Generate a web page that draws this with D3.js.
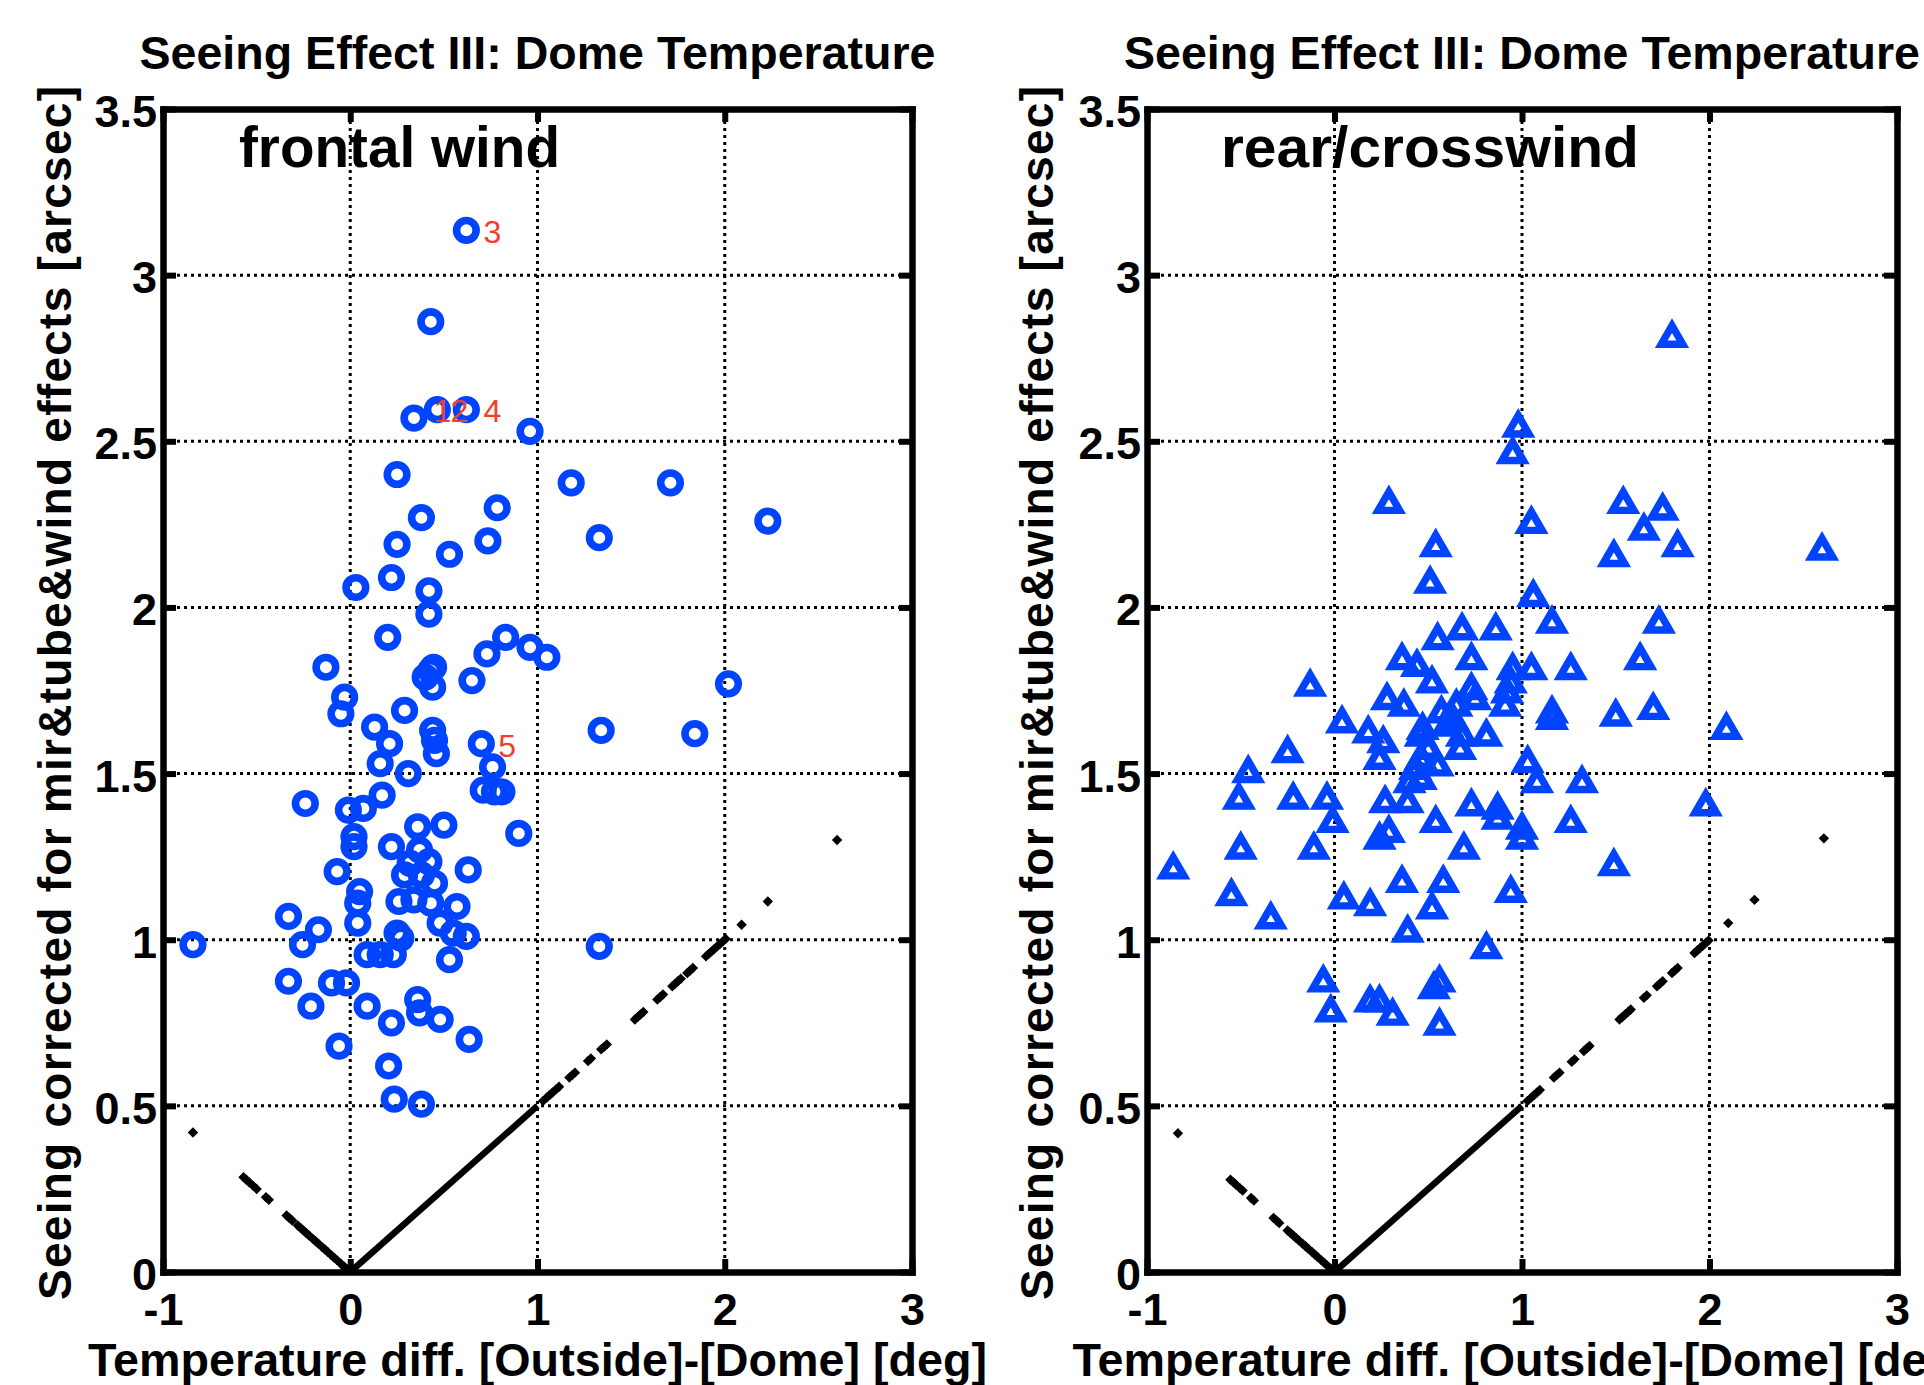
<!DOCTYPE html>
<html><head><meta charset="utf-8">
<script src="https://cdn.jsdelivr.net/npm/d3@7"></script>
<style>
html,body{margin:0;padding:0;background:#fff;}
svg{display:block;}
text{font-family:"Liberation Sans",Arial,Helvetica,sans-serif;}
</style>
</head><body>
<svg id="chart" width="1924" height="1385"></svg>
<script>
// ---------------- data ----------------
const xTickValues = [-1, 0, 1, 2, 3];
const xTickLabels = ["-1", "0", "1", "2", "3"];
const yTickValues = [0, 0.5, 1, 1.5, 2, 2.5, 3, 3.5];
const yTickLabels = ["0", "0.5", "1", "1.5", "2", "2.5", "3", "3.5"];
const gridXValues = [0, 1, 2];
const gridYValues = [0.5, 1, 1.5, 2, 2.5, 3];

const titleText = "Seeing Effect III: Dome Temperature";
const xLabelText = "Temperature diff. [Outside]-[Dome] [deg]";
const yLabelText = "Seeing corrected for mir&tube&wind effects [arcsec]";
const panelNames = ["frontal wind", "rear/crosswind"];

// frontal wind (circles)
const frontalX = [0.62,0.43,0.34,0.465,0.62,0.96,0.25,1.18,1.71,0.38,0.785,2.23,1.33,0.735,0.25,0.53,0.22,0.03,0.42,0.42,
  0.20,0.83,0.96,1.05,0.73,-0.13,0.43,0.40,0.44,0.445,2.02,0.65,-0.03,-0.05,0.29,0.13,1.34,1.84,0.21,0.44,
  0.45,0.46,0.70,0.16,0.76,0.31,0.17,0.71,0.77,0.81,-0.24,-0.01,0.07,0.90,0.36,0.50,0.02,0.02,0.22,0.37,
  0.32,0.42,0.38,0.45,0.29,0.63,-0.07,0.05,0.04,0.04,0.26,0.34,0.43,0.57,0.48,0.55,0.62,-0.33,-0.17,-0.255,
  -0.84,0.09,0.16,0.23,0.27,0.25,0.53,1.33,-0.33,-0.10,-0.02,-0.21,0.09,0.36,0.37,0.22,0.48,0.635,-0.06,0.205,
  0.235,0.38];
const frontalY = [3.135,2.86,2.57,2.595,2.595,2.53,2.40,2.375,2.375,2.27,2.30,2.26,2.21,2.20,2.19,2.16,2.09,2.06,2.05,1.98,
  1.91,1.91,1.88,1.85,1.86,1.82,1.81,1.79,1.76,1.82,1.77,1.78,1.73,1.68,1.69,1.64,1.63,1.62,1.59,1.63,
  1.60,1.56,1.59,1.53,1.52,1.50,1.435,1.45,1.445,1.445,1.41,1.39,1.395,1.32,1.34,1.345,1.31,1.28,1.28,1.27,
  1.23,1.235,1.195,1.17,1.195,1.21,1.205,1.145,1.11,1.05,1.115,1.12,1.11,1.10,1.05,1.02,1.01,1.07,1.03,0.985,
  0.985,0.955,0.955,0.955,1.005,1.02,0.94,0.98,0.875,0.87,0.87,0.80,0.80,0.82,0.78,0.75,0.76,0.70,0.68,0.62,
  0.52,0.505];

// rear / crosswind (triangles)
const rearX = [1.80,0.98,0.95,0.29,1.54,1.75,1.05,1.65,0.54,1.49,1.83,2.60,0.51,1.06,1.16,1.73,0.68,0.86,0.55,0.36,
  0.73,1.05,1.26,0.44,1.63,0.95,-0.13,0.52,0.73,0.94,0.92,0.28,0.37,0.57,0.65,0.75,0.91,1.16,1.16,1.50,
  1.70,0.04,0.18,0.26,0.24,0.46,0.68,0.81,0.67,0.46,0.55,0.43,0.46,0.40,1.03,1.08,1.32,2.09,-0.46,-0.25,
  -0.51,-0.22,-0.04,-0.01,0.27,0.39,0.73,0.87,0.87,0.54,1.00,1.00,1.26,1.98,0.29,0.24,-0.50,-0.11,0.69,-0.86,
  0.36,0.58,0.94,1.49,-0.55,0.05,0.19,0.52,-0.34,0.39,0.81,-0.06,0.56,0.53,0.19,0.24,0.31,-0.02,0.56,0.47,
  0.63,0.50,0.60];
const rearY = [2.82,2.55,2.47,2.32,2.32,2.30,2.26,2.24,2.19,2.16,2.19,2.18,2.08,2.04,1.96,1.96,1.94,1.94,1.91,1.85,
  1.85,1.82,1.82,1.83,1.85,1.82,1.77,1.78,1.76,1.78,1.75,1.73,1.71,1.69,1.71,1.73,1.71,1.69,1.67,1.68,
  1.70,1.66,1.63,1.60,1.55,1.62,1.62,1.62,1.58,1.55,1.53,1.52,1.49,1.48,1.54,1.48,1.48,1.64,1.51,1.57,
  1.43,1.43,1.43,1.36,1.42,1.42,1.41,1.40,1.37,1.36,1.34,1.31,1.36,1.41,1.33,1.31,1.28,1.28,1.28,1.22,
  1.18,1.18,1.15,1.23,1.14,1.13,1.11,1.10,1.07,1.03,0.98,0.88,0.88,0.86,0.82,0.82,0.78,0.79,0.75,1.64,
  1.67,1.58,1.65];

// red annotations (left panel)
const noteText = ["3", "1", "2", "4", "5"];
const noteX = [0.712, 0.445, 0.536, 0.712, 0.79];
const noteY = [3.097, 2.558, 2.558, 2.558, 1.55];

// black reference points (seeing = 0.5*|dT|), solid part as a segment
const refSolidX = [0, 1.0];
const refSolidY = [0, 0.5];
const refLeftX = [-0.84,-0.57,-0.555,-0.54,-0.52,-0.50,-0.45,-0.435,-0.34,-0.325,-0.31,-0.28,-0.265,-0.25,-0.235,-0.22,-0.2,-0.185,-0.17,-0.15,-0.135,-0.12,-0.1,-0.085,-0.07,-0.05,-0.035,-0.02,
  1.03,1.05,1.065,1.08,1.10,1.115,1.17,1.185,1.20,1.27,1.285,1.34,1.355,1.37,1.52,1.535,1.55,1.565,1.64,1.655,1.67,1.72,1.735,1.75,1.765,1.80,1.815,1.83,1.90,1.915,1.93,1.945,1.96,1.975,1.99,2.005,2.09,2.23,2.60];
const refLeftY = [0.42,0.285,0.2775,0.27,0.26,0.25,0.225,0.2175,0.17,0.1625,0.155,0.14,0.1325,0.125,0.1175,0.11,0.10,0.0925,0.085,0.075,0.0675,0.06,0.05,0.0425,0.035,0.025,0.0175,0.01,
  0.515,0.525,0.5325,0.54,0.55,0.5575,0.585,0.5925,0.60,0.635,0.6425,0.67,0.6775,0.685,0.76,0.7675,0.775,0.7825,0.82,0.8275,0.835,0.86,0.8675,0.875,0.8825,0.90,0.9075,0.915,0.95,0.9575,0.965,0.9725,0.98,0.9875,0.995,1.0025,1.045,1.115,1.30];
const refRightX = [-0.835,-0.555,-0.54,-0.525,-0.505,-0.49,-0.445,-0.43,-0.325,-0.31,-0.295,-0.25,-0.235,-0.22,-0.205,-0.19,-0.17,-0.155,-0.14,-0.12,-0.105,-0.09,-0.07,-0.055,-0.04,-0.025,
  1.03,1.05,1.065,1.08,1.095,1.17,1.185,1.20,1.265,1.28,1.33,1.345,1.36,1.52,1.535,1.55,1.565,1.58,1.65,1.665,1.72,1.735,1.75,1.80,1.815,1.83,1.92,1.935,1.95,1.965,1.98,1.995,2.10,2.24,2.61];
const refRightY = [0.4175,0.2775,0.27,0.2625,0.2525,0.245,0.2225,0.215,0.1625,0.155,0.1475,0.125,0.1175,0.11,0.1025,0.095,0.085,0.0775,0.07,0.06,0.0525,0.045,0.035,0.0275,0.02,0.0125,
  0.515,0.525,0.5325,0.54,0.5475,0.585,0.5925,0.60,0.6325,0.64,0.665,0.6725,0.68,0.76,0.7675,0.775,0.7825,0.79,0.825,0.8325,0.86,0.8675,0.875,0.90,0.9075,0.915,0.96,0.9675,0.975,0.9825,0.99,0.9975,1.05,1.12,1.305];

// ---------------- drawing ----------------
const svg = d3.select("#chart");
const BLUE = "rgb(0,68,255)";
const RED = "#f0402a";
const TOP = 109, BOTTOM = 1272;
const panels = [
  {left: 163, right: 912, xs: frontalX, ys: frontalY, marker: "circle", name: panelNames[0], nameX: 239, nameW: 321,
   refX: refLeftX, refY: refLeftY, labelX: 71},
  {left: 1147, right: 1897, xs: rearX, ys: rearY, marker: "triangle", name: panelNames[1], nameX: 1221, nameW: 418,
   refX: refRightX, refY: refRightY, labelX: 1053}
];

function triPath(s) {
  const h = s * Math.sqrt(3) / 2;
  const p = d3.path();
  p.moveTo(0, -h / 2); p.lineTo(s / 2, h / 2); p.lineTo(-s / 2, h / 2); p.closePath();
  return p.toString();
}
function diamondPath(r) {
  const p = d3.path();
  p.moveTo(0, -r); p.lineTo(r, 0); p.lineTo(0, r); p.lineTo(-r, 0); p.closePath();
  return p.toString();
}

panels.forEach((P, pi) => {
  const x = d3.scaleLinear().domain([-1, 3]).range([P.left, P.right]);
  const y = d3.scaleLinear().domain([0, 3.5]).range([BOTTOM, TOP]);
  const g = svg.append("g");

  // grid
  const grid = g.append("g").attr("stroke", "#000").attr("stroke-width", 3).attr("stroke-dasharray", "3,4");
  grid.selectAll("line.gx").data(gridXValues).join("line")
    .attr("x1", d => x(d)).attr("x2", d => x(d)).attr("y1", y(0)).attr("y2", y(3.5));
  grid.selectAll("line.gy").data(gridYValues).join("line")
    .attr("y1", d => y(d)).attr("y2", d => y(d)).attr("x1", x(-1)).attr("x2", x(3));

  // reference line
  g.append("line")
    .attr("x1", x(refSolidX[0])).attr("y1", y(refSolidY[0]))
    .attr("x2", x(refSolidX[1])).attr("y2", y(refSolidY[1]))
    .attr("stroke", "#000").attr("stroke-width", 6.5);
  g.selectAll("path.ref").data(P.refX.map((v, i) => [v, P.refY[i]])).join("path")
    .attr("d", diamondPath(5.2))
    .attr("transform", d => `translate(${x(d[0])},${y(d[1])})`)
    .attr("fill", "#000");

  // markers
  const pts = P.xs.map((v, i) => [v, P.ys[i]]);
  if (P.marker === "circle") {
    g.selectAll("circle.m").data(pts).join("circle")
      .attr("cx", d => x(d[0])).attr("cy", d => y(d[1])).attr("r", 9.8)
      .attr("fill", "none").attr("stroke", BLUE).attr("stroke-width", 7.6);
  } else {
    g.selectAll("path.m").data(pts).join("path")
      .attr("d", triPath(21.5))
      .attr("transform", d => `translate(${x(d[0])},${y(d[1])})`)
      .attr("fill", "none").attr("stroke", BLUE).attr("stroke-width", 7.4)
      .attr("stroke-linejoin", "miter");
  }

  // red notes
  if (pi === 0) {
    g.selectAll("text.note").data(noteText.map((t, i) => [t, noteX[i], noteY[i]])).join("text")
      .attr("x", d => x(d[1])).attr("y", d => y(d[2]))
      .attr("fill", RED).attr("font-size", 32).text(d => d[0]);
  }

  // axes (ticks inside, mirrored)
  const ax = g.append("g").attr("class", "axes");
  const bottomAxis = d3.axisBottom(x).tickValues(xTickValues)
    .tickFormat((d, i) => xTickLabels[i]).tickSizeInner(-13).tickSizeOuter(0).tickPadding(0);
  const topAxis = d3.axisTop(x).tickValues(xTickValues).tickFormat("").tickSizeInner(-13).tickSizeOuter(0);
  const leftAxis = d3.axisLeft(y).tickValues(yTickValues)
    .tickFormat((d, i) => yTickLabels[i]).tickSizeInner(-13).tickSizeOuter(0).tickPadding(0);
  const rightAxis = d3.axisRight(y).tickValues(yTickValues).tickFormat("").tickSizeInner(-13).tickSizeOuter(0);

  const gb = ax.append("g").attr("transform", `translate(0,${BOTTOM})`).call(bottomAxis);
  const gt = ax.append("g").attr("transform", `translate(0,${TOP})`).call(topAxis);
  const gl = ax.append("g").attr("transform", `translate(${P.left},0)`).call(leftAxis);
  const gr = ax.append("g").attr("transform", `translate(${P.right},0)`).call(rightAxis);

  [gb, gt, gl, gr].forEach(a => {
    a.select(".domain").attr("stroke", "#000").attr("stroke-width", 6.5).attr("stroke-linecap", "square");
    a.selectAll(".tick line").attr("stroke", "#000").attr("stroke-width", 6);
  });
  gb.selectAll(".tick text").attr("y", 53).attr("dy", null)
    .attr("font-size", 45).attr("font-weight", "bold").attr("fill", "#000");
  gl.selectAll(".tick text").attr("x", -6).attr("dy", "0.39em")
    .attr("font-size", 45).attr("font-weight", "bold").attr("fill", "#000");
  [gb, gt, gl, gr].forEach(a => a.attr("font-family", null));

  // texts
  const cx = (P.left + P.right) / 2;
  g.append("text").attr("x", cx).attr("y", 69).attr("text-anchor", "middle")
    .attr("font-size", 46).attr("font-weight", "bold")
    .attr("textLength", 796).attr("lengthAdjust", "spacingAndGlyphs").text(titleText);
  g.append("text").attr("x", cx).attr("y", 1376).attr("text-anchor", "middle")
    .attr("font-size", 46).attr("font-weight", "bold")
    .attr("textLength", 899).attr("lengthAdjust", "spacingAndGlyphs").text(xLabelText);
  g.append("text").attr("transform", `translate(${P.labelX},693) rotate(-90)`).attr("text-anchor", "middle")
    .attr("font-size", 46).attr("font-weight", "bold")
    .attr("textLength", 1214).attr("lengthAdjust", "spacing").text(yLabelText);
  g.append("text").attr("x", P.nameX).attr("y", 167)
    .attr("font-size", 58).attr("font-weight", "bold")
    .attr("textLength", P.nameW).attr("lengthAdjust", "spacingAndGlyphs").text(P.name);
});
</script>
</body></html>
